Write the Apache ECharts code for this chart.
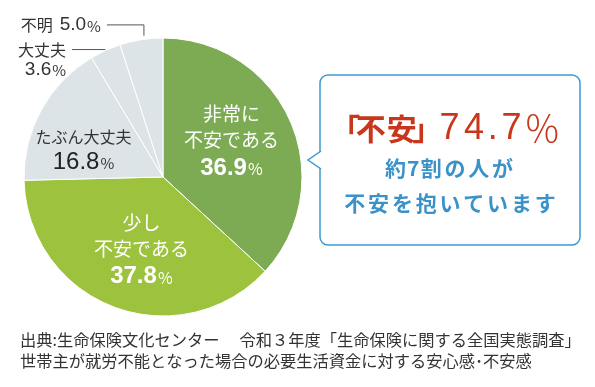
<!DOCTYPE html>
<html><head><meta charset="utf-8">
<script src="https://cdn.jsdelivr.net/npm/echarts@6/dist/echarts.min.js"></script>
<style>html,body{margin:0;padding:0;background:#fff}#c{width:595px;height:387px}</style>
</head><body><div id="c"></div>
<script>
const categories = ['非常に\n不安である', '少し\n不安である', 'たぶん大丈夫', '大丈夫', '不明'];
const values = [36.9, 37.8, 16.8, 3.6, 5.0];
const calloutWord = '「不安」';
const calloutValue = '74.7';
const calloutLines = ['約7割の人が', '不安を抱いています'];
const sourceLines = ['出典:生命保険文化センター　 令和３年度「生命保険に関する全国実態調査」', '世帯主が就労不能となった場合の必要生活資金に対する安心感･不安感'];

const JP = '"Noto Sans CJK JP", sans-serif';
const NUM = '"Liberation Sans", Arial, sans-serif';
const fills = ['#7dab53', '#9dc23d', '#dde4e8', '#dde4e8', '#dde4e8'];
// label styling per slice (w = white inside, d = dark inside, o = outside two lines, o1 = outside one line)
const kinds = ['w', 'w', 'd', 'o', 'o1'];
const offsets = [[2, -6], [4, 6], [-16, 8], [0, 0], [0, 0]];

function fmt(i) {
  const k = kinds[i];
  const v = values[i].toFixed(1);
  const lines = categories[i].split('\n');
  if (k === 'o1') return '{oj|' + lines[0] + '}{og|' + v + '}{op|%}';
  if (k === 'o') return '{oj|' + lines[0] + '}\n{on|' + v + '}{op|%}';
  const p = k === 'w' ? 'w' : 'd';
  return lines.map(l => '{' + p + 'j|' + l + '}').join('\n') + '\n{' + p + 'n|' + v + '}{' + p + 'p|%}';
}

const rich = {
  wj: {fontFamily: JP, fontSize: 19, color: '#fff', lineHeight: 26},
  wn: {fontFamily: NUM, fontSize: 24, fontWeight: 'bold', color: '#fff', lineHeight: 30},
  wp: {fontFamily: JP, fontSize: 16, color: '#fff', lineHeight: 30, padding: [3, 0, 0, 1]},
  dj: {fontFamily: JP, fontSize: 16, color: '#333', lineHeight: 24},
  dn: {fontFamily: NUM, fontSize: 24, color: '#222', lineHeight: 26},
  dp: {fontFamily: JP, fontSize: 15, color: '#333', lineHeight: 26, padding: [3, 0, 0, 1]},
  oj: {fontFamily: JP, fontSize: 16, color: '#333', lineHeight: 20},
  on: {fontFamily: NUM, fontSize: 19, color: '#333', lineHeight: 20},
  og: {fontFamily: NUM, fontSize: 19, color: '#333', lineHeight: 20, padding: [0, 0, 0, 7]},
  op: {fontFamily: JP, fontSize: 15, color: '#333', lineHeight: 20, padding: [2, 0, 0, 1]}
};

const data = values.map((v, i) => {
  const k = kinds[i];
  const item = {value: v, name: categories[i], itemStyle: {color: fills[i]}};
  if (k === 'o' || k === 'o1') {
    item.label = {show: true, position: 'outside', formatter: fmt(i), rich: rich,
      padding: k === 'o' ? [20, 0, 0, 0] : 0, distanceToLabelLine: 6};
    item.labelLine = {show: true, length: k === 'o' ? 1 : 15, length2: k === 'o' ? 33 : 32,
      lineStyle: {color: '#555', width: 1}};
  } else {
    item.label = {show: true, position: 'inside', formatter: fmt(i), rich: rich, offset: offsets[i], align: 'center'};
    item.labelLine = {show: false};
  }
  return item;
});

// spaced text: every character in its own fixed-width cell
function cells(str, style) {
  return str.split('').map(ch => {
    let key = style;
    if (/[0-9]/.test(ch)) key = style + 'D';
    else if (ch === '.') key = style + 'P';
    else if (ch === '「') key = style + 'L';
    else if (ch === '」') key = style + 'R';
    return '{' + key + '|' + ch + '}';
  }).join('');
}
const red = '#c8361b', blue = '#3a92c9';
const titleRich = {
  t: {fontFamily: JP, fontSize: 30, fontWeight: 'bold', fill: red, width: 31, align: 'center'},
  tL: {fontFamily: JP, fontSize: 30, fontWeight: 'bold', fill: red, width: 20, align: 'right'},
  tR: {fontFamily: JP, fontSize: 30, fontWeight: 'bold', fill: red, width: 20, align: 'left'},
  n: {fontFamily: NUM, fontSize: 36, fill: red},
  nD: {fontFamily: NUM, fontSize: 36, fill: red, width: 24.5, align: 'left'},
  nP: {fontFamily: NUM, fontSize: 36, fill: red, width: 13, align: 'left'},
  pc: {fontFamily: JP, fontSize: 37, fontWeight: 300, fill: red}
};
const lineRich = {
  s: {fontFamily: JP, fontSize: 21, fontWeight: 'bold', fill: blue, width: 23.8, align: 'center'},
  sD: {fontFamily: JP, fontSize: 21, fontWeight: 'bold', fill: blue, width: 12, align: 'center'}
};

const chart = echarts.init(document.getElementById('c'), null, {renderer: 'canvas'});
chart.setOption({
  animation: false,
  series: [{
    type: 'pie',
    center: [163, 177],
    radius: [0, 139],
    startAngle: 90,
    clockwise: true,
    avoidLabelOverlap: false,
    itemStyle: {borderColor: '#fff', borderWidth: 1},
    emphasis: {disabled: true},
    labelLayout: function (params) {
      // make the first leader segment of the one-line outside label vertical
      if (params.dataIndex === 4 && params.labelLinePoints) {
        const p = params.labelLinePoints;
        return {labelLinePoints: [[p[1][0] + 5, p[0][1] - 4], [p[1][0] + 5, p[1][1]], [p[2][0], p[1][1]]]};
      }
      return {};
    },
    data: data
  }],
  graphic: [
    {type: 'rect', shape: {x: 320, y: 75, width: 260, height: 170, r: 8},
     style: {fill: '#fff', stroke: '#3d9ad1', lineWidth: 1.5}},
    {type: 'polygon', shape: {points: [[322, 151], [308, 160], [322, 169]]},
     style: {fill: '#fff', stroke: null}},
    {type: 'polyline', shape: {points: [[321, 151], [308, 160], [321, 169]]},
     style: {stroke: '#3d9ad1', lineWidth: 1.5, fill: null}},
    {type: 'text', x: 448, y: 129,
     style: {text: cells(calloutWord, 't') + cells(calloutValue, 'n') + '{pc|％}',
       align: 'center', verticalAlign: 'middle', rich: titleRich}},
    {type: 'text', x: 449, y: 168,
     style: {text: cells(calloutLines[0], 's'), align: 'center', verticalAlign: 'middle', rich: lineRich}},
    {type: 'text', x: 450, y: 203,
     style: {text: cells(calloutLines[1], 's'), align: 'center', verticalAlign: 'middle', rich: lineRich}},
    {type: 'text', x: 20, y: 340,
     style: {text: sourceLines[0], verticalAlign: 'middle', fontFamily: JP, fontSize: 16.25, fill: '#333'}},
    {type: 'text', x: 20, y: 361,
     style: {text: sourceLines[1], verticalAlign: 'middle', fontFamily: JP, fontSize: 16.25, fill: '#333'}}
  ]
});
</script></body></html>
